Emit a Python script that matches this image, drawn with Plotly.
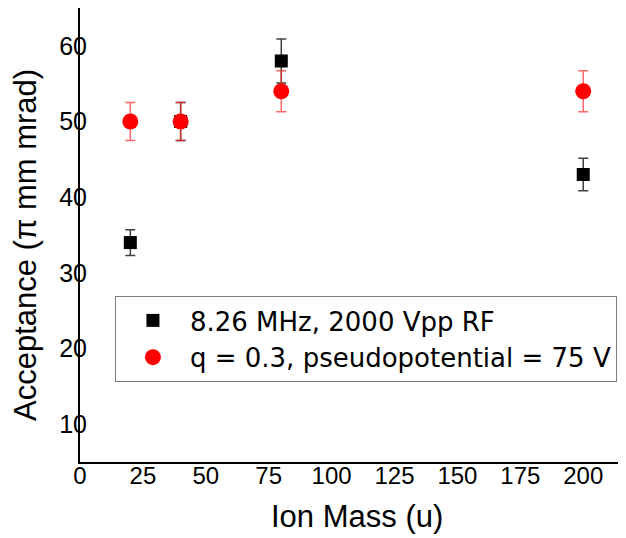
import plotly.graph_objects as go

# Data
mass = [20, 40, 80, 200]
acc_rf = [34, 50, 58, 43]
err_rf = [1.7, 2.5, 2.9, 2.15]
acc_q = [50, 50, 54, 54]
err_q = [2.5, 2.5, 2.7, 2.7]

name_rf = "8.26 MHz, 2000 Vpp RF"
name_q = "q = 0.3, pseudopotential = 75 V"
x_ticks = [0, 25, 50, 75, 100, 125, 150, 175, 200]
y_ticks = [10, 20, 30, 40, 50, 60]

FONT = "Liberation Sans, Arial, sans-serif"
LFONT = "DejaVu Sans, sans-serif"

fig = go.Figure()
fig.add_trace(go.Scatter(
    x=mass, y=acc_rf, mode="markers", name=name_rf, legendgroup="a",
    marker=dict(symbol="square", size=13, color="black"),
    error_y=dict(type="data", array=err_rf, visible=True, color="#404040",
                 thickness=1.5, width=5),
))
fig.add_trace(go.Scatter(
    x=mass, y=acc_q, mode="markers", name=name_q, legendgroup="b",
    marker=dict(symbol="circle", size=16, color="#ff0000"),
    error_y=dict(type="data", array=err_q, visible=True, color="rgba(255,40,40,0.7)",
                 thickness=1.5, width=5),
))

# the page body adds an 8px offset, so the figure is 8px smaller than the window
fig.update_layout(
    width=618, height=530,
    margin=dict(l=72, r=0, t=0, b=76, autoexpand=False),
    paper_bgcolor="white", plot_bgcolor="white",
    font=dict(family=FONT, color="black"),
    showlegend=True,
    legend=dict(
        x=0.064, y=0.3656, xanchor="left", yanchor="top",
        bordercolor="#808080", borderwidth=1, bgcolor="white",
        font=dict(size=26, family=LFONT), itemwidth=64,
        tracegroupgap=0,
    ),
    xaxis=dict(
        range=[0, 217], tickvals=x_ticks, ticks="", showgrid=False, zeroline=False,
        showline=True, linecolor="black", linewidth=2,
        tickfont=dict(size=24, family=FONT), ticklabelstandoff=-9,
    ),
    yaxis=dict(
        range=[5, 65], tickvals=y_ticks, ticks="", showgrid=False, zeroline=False,
        showline=True, linecolor="black", linewidth=2,
        tickfont=dict(size=25, family=FONT), ticklabelstandoff=-14,
    ),
    annotations=[
        dict(text="Ion Mass (u)", xref="paper", yref="paper",
             x=(357 - 80) / 546, y=-(516 - 462) / 454,
             xanchor="center", yanchor="middle", showarrow=False,
             font=dict(size=31, family=FONT)),
        dict(text="Acceptance (π mm mrad)", xref="paper", yref="paper",
             x=-(80 - 26) / 546, y=(462 - 245) / 454, textangle=-90,
             xanchor="center", yanchor="middle", showarrow=False,
             font=dict(size=31, family=FONT)),
    ],
)

fig.write_html("out.html")
